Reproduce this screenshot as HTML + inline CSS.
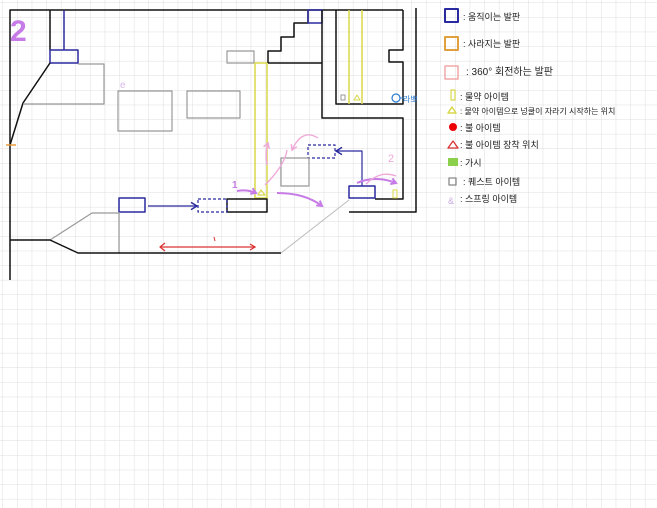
<!DOCTYPE html>
<html><head><meta charset="utf-8"><style>
html,body{margin:0;padding:0;background:#fff;width:657px;height:508px;overflow:hidden}
svg{display:block}
text{font-family:"Liberation Sans","Noto Sans CJK KR",sans-serif}
</style></head><body>
<svg width="657" height="508" viewBox="0 0 657 508" xmlns="http://www.w3.org/2000/svg">
<defs>
<pattern id="g" width="14.6" height="14.6" patternUnits="userSpaceOnUse" x="3" y="3">
<path d="M14.6 0V14.6H0" fill="none" stroke="#dedede" stroke-width="1"/>
</pattern>
<marker id="ab" markerWidth="8" markerHeight="8" refX="6" refY="4" orient="auto"><path d="M1 1L6 4L1 7" fill="none" stroke="#2a2aa0" stroke-width="1.2"/></marker>
<marker id="ap" markerWidth="8" markerHeight="8" refX="6" refY="4" orient="auto" markerUnits="userSpaceOnUse"><path d="M1 1L6 4L1 7" fill="none" stroke="#c77be6" stroke-width="2"/></marker>
<marker id="apl" markerWidth="8" markerHeight="8" refX="6" refY="4" orient="auto" markerUnits="userSpaceOnUse"><path d="M1 1L6 4L1 7" fill="none" stroke="#f0a8d8" stroke-width="1.5"/></marker>
<marker id="ar" markerWidth="8" markerHeight="8" refX="6" refY="4" orient="auto" markerUnits="userSpaceOnUse"><path d="M1 1L6 4L1 7" fill="none" stroke="#d33" stroke-width="1.3"/></marker>
</defs>
<rect width="657" height="508" fill="url(#g)"/>
<g fill="none" stroke-linejoin="round">
<path d="M10 280V10H403" stroke="#111" stroke-width="1.5"/>
<path d="M50 10V50" stroke="#111" stroke-width="1.5"/>
<path d="M64 10V50" stroke="#2a2aa0" stroke-width="1.5"/>
<rect x="50" y="50" width="28" height="13" stroke="#2a2aa0" stroke-width="1.5"/>
<path d="M50 63L23 103L10 145" stroke="#111" stroke-width="1.5"/>
<path d="M6 145H16" stroke="#e89a3a" stroke-width="1.5"/>
<path d="M78 64H104V104H23" stroke="#999" stroke-width="1.2"/>
<rect x="118" y="91" width="54" height="40" stroke="#999" stroke-width="1.2"/>
<rect x="187" y="91" width="53" height="27" stroke="#999" stroke-width="1.2"/>
<rect x="227" y="51" width="27" height="12" stroke="#999" stroke-width="1.2"/>
<rect x="255" y="63" width="12" height="135" stroke="#d8d84a" stroke-width="1.5"/>
<path d="M268 63H322M268 63V51H281V37H294V23H308V10" stroke="#111" stroke-width="1.5"/>
<rect x="308" y="10" width="14" height="13" stroke="#2a2aa0" stroke-width="1.5"/>
<path d="M322 10V118H403V199H375" stroke="#111" stroke-width="1.5"/>
<path d="M336 10V104H403V62H389V50H403V10" stroke="#111" stroke-width="1.5"/>
<path d="M416 8V212H349" stroke="#111" stroke-width="1.5"/>
<path d="M349 10V104M362 10V104" stroke="#d8d84a" stroke-width="1.5"/>
<rect x="341" y="95" width="4" height="5" stroke="#999" stroke-width="1"/>
<path d="M357 95L354 100H360Z" stroke="#d8d84a" stroke-width="1"/>
<circle cx="396" cy="98" r="4" stroke="#2a7ad0" stroke-width="1.2"/>
<path d="M400 98H404" stroke="#2a7ad0"/>
<rect x="349" y="186" width="26" height="12" stroke="#2a2aa0" stroke-width="1.5"/>
<path d="M362 186V151H336" stroke="#2a2aa0" stroke-width="1.2" marker-end="url(#ab)"/>
<rect x="308" y="145" width="27" height="13" stroke="#2a2aa0" stroke-width="1.2" stroke-dasharray="3 2"/>
<rect x="281" y="158" width="28" height="28" stroke="#999" stroke-width="1.2"/>
<rect x="393" y="190" width="4" height="8" stroke="#d8d84a" stroke-width="1"/>
<rect x="227" y="199" width="40" height="13" stroke="#111" stroke-width="1.5"/>
<rect x="198" y="199" width="29" height="13" stroke="#2a2aa0" stroke-width="1.2" stroke-dasharray="3 2"/>
<rect x="119" y="198" width="26" height="14" stroke="#2a2aa0" stroke-width="1.5"/>
<path d="M148 206H197" stroke="#2a2aa0" stroke-width="1.2" marker-end="url(#ab)"/>
<path d="M119 212V253M50 240L92 213H119" stroke="#999" stroke-width="1.2"/>
<path d="M10 240H50L78 253H281" stroke="#111" stroke-width="1.5"/>
<path d="M281 253L349 200" stroke="#bbb" stroke-width="1"/>
<path d="M160 247H255" stroke="#d33" stroke-width="1.3" marker-end="url(#ar)"/>
<path d="M165 243L160 247L165 251" stroke="#d33" stroke-width="1.3"/>
<path d="M214 237L215 241" stroke="#d33"/>
<path d="M261 190L258 195H265Z" stroke="#d8d84a" stroke-width="1.2"/>
<path d="M237 191Q247 189 256 193" stroke="#c77be6" stroke-width="2" marker-end="url(#ap)"/>
<path d="M277 193Q305 193 322 206" stroke="#c77be6" stroke-width="2" marker-end="url(#ap)"/>
<path d="M357 183Q375 175 396 183" stroke="#c77be6" stroke-width="2" marker-end="url(#ap)"/>
<path d="M265 185Q285 165 287 150" stroke="#f0a8d8" stroke-width="1.3"/>
<path d="M267 165Q265 152 268 143" stroke="#f0a8d8" stroke-width="1.5" marker-end="url(#apl)"/>
<path d="M318 138Q302 128 292 150" stroke="#f0a8d8" stroke-width="1.3" marker-end="url(#apl)"/>
<path d="M366 184Q380 170 396 176" stroke="#f0a8d8" stroke-width="1.3"/>
<rect x="445" y="9" width="13" height="13" stroke="#2a2aa0" stroke-width="2"/>
<rect x="445" y="37" width="13" height="13" stroke="#e0a040" stroke-width="2"/>
<rect x="445" y="66" width="13" height="13" stroke="#f0a8a8" stroke-width="1.5"/>
<rect x="451" y="90" width="4" height="10" stroke="#d8d84a" stroke-width="1.2"/>
<path d="M452 107L448 113H456Z" stroke="#d8d84a" stroke-width="1.5"/>
<path d="M453 141L448 148H458Z" stroke="#d33" stroke-width="1.3"/>
<rect x="449" y="178" width="7" height="7" stroke="#888" stroke-width="1.3"/>
</g>
<circle cx="453" cy="127" r="4" fill="#e00"/>
<rect x="448" y="158" width="10" height="8" fill="#8ccf4a"/>
<text x="10" y="41" font-size="30" font-weight="bold" fill="#c77be6">2</text>
<text x="120" y="88" font-size="10" fill="#d8b8e8">e</text>
<text x="232" y="188" font-size="10" font-weight="bold" fill="#c77be6">1</text>
<text x="388" y="162" font-size="11" fill="#f0a8d8">2</text>
<text x="403" y="102" font-size="8" fill="#2a7ad0">라뽀</text>
<text x="448" y="204" font-size="9" fill="#c8a8e0">&amp;</text>
<g font-size="9" fill="#222">
<text x="463" y="20">: 움직이는 발판</text>
<text x="463" y="47">: 사라지는 발판</text>
<text x="466" y="75" font-size="10">: 360° 회전하는 발판</text>
<text x="460" y="100">: 물약 아이템</text>
<text x="460" y="114" font-size="8">: 물약 아이템으로 넝쿨이 자라기 시작하는 위치</text>
<text x="460" y="131">: 불 아이템</text>
<text x="460" y="148">: 불 아이템 장착 위치</text>
<text x="460" y="166">: 가시</text>
<text x="463" y="185">: 퀘스트 아이템</text>
<text x="460" y="202">: 스프링 아이템</text>
</g>
</svg>
</body></html>
